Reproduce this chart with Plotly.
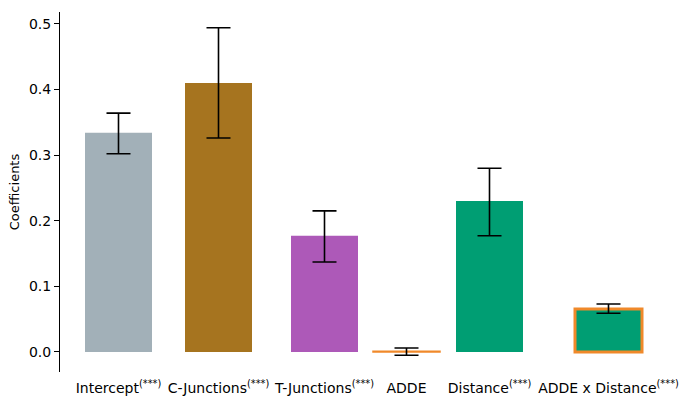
import plotly.graph_objects as go

categories = ["Intercept<sup>(***)</sup>", "C-Junctions<sup>(***)</sup>", "T-Junctions<sup>(***)</sup>",
              "ADDE", "Distance<sup>(***)</sup>", "ADDE x Distance<sup>(***)</sup>"]
coefficients = [0.334, 0.410, 0.177, 0.001, 0.230, 0.0655]
ci_upper = [0.364, 0.494, 0.215, 0.006, 0.280, 0.073]
ci_lower = [0.302, 0.326, 0.137, -0.005, 0.177, 0.059]

x_pos = [0.0, 1.0, 2.06, 2.88, 3.71, 4.90]
fill_colors = ["#a2b0b8", "#a6741f", "#ad59b8", "#f0892a", "#009e73", "#009e73"]
edge_colors = ["rgba(0,0,0,0)", "rgba(0,0,0,0)", "rgba(0,0,0,0)", "#f0892a", "rgba(0,0,0,0)", "#f0892a"]
edge_widths = [0, 0, 0, 1.5, 0, 3]

err_plus = [u - c for u, c in zip(ci_upper, coefficients)]
err_minus = [c - l for c, l in zip(coefficients, ci_lower)]

fig = go.Figure()
fig.add_trace(go.Bar(
    x=x_pos, y=coefficients, width=0.67,
    marker=dict(color=fill_colors, line=dict(color=edge_colors, width=edge_widths)),
    error_y=dict(type="data", symmetric=False, array=err_plus, arrayminus=err_minus,
                 color="black", thickness=1.6, width=12),
))
fig.update_layout(
    width=681, height=397,
    margin=dict(l=60, r=0, t=12, b=25),
    plot_bgcolor="white", paper_bgcolor="white",
    font=dict(family="DejaVu Sans", size=14, color="black"),
    showlegend=False,
    xaxis=dict(range=[-0.585, 5.625], tickvals=x_pos, ticktext=categories,
               showline=False, showgrid=False, zeroline=False,
               ticks="outside", ticklen=3, tickcolor="rgba(0,0,0,0)",
               tickfont=dict(size=14)),
    yaxis=dict(range=[-0.0305, 0.518], tickvals=[0, 0.1, 0.2, 0.3, 0.4, 0.5],
               tickformat=".1f", showline=True, linecolor="black", linewidth=1,
               ticks="outside", ticklen=5, tickcolor="black", showgrid=False,
               zeroline=False, title=dict(text="Coefficients", standoff=6, font=dict(size=13)),
               tickfont=dict(size=14)),
)
fig.write_html("out.html")
